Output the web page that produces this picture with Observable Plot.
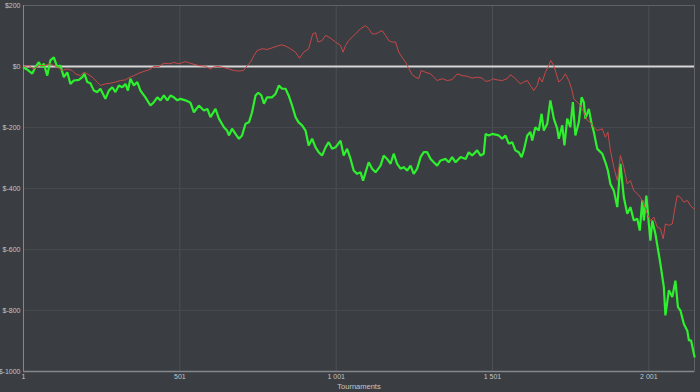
<!DOCTYPE html>
<html><head><meta charset="utf-8">
<script src="https://cdn.jsdelivr.net/npm/d3@7"></script>
<script src="https://cdn.jsdelivr.net/npm/@observablehq/plot@0.6"></script>
<style>
html,body{margin:0;padding:0;background:#3a3d41;}
#chart svg{display:block;}
</style></head><body><div id="chart"></div>
<script>
const xTicks = [1, 501, 1001, 1501, 2001];
const xTickLabels = ["1", "501", "1 001", "1 501", "2 001"];
const yTicks = [200, 0, -200, -400, -600, -800, -1000];
const yTickLabels = ["$200", "$0", "$-200", "$-400", "$-600", "$-800", "$-1000"];
const xLabel = "Tournaments";

// green series (tournament, $)
const greenT = [2,13,29,39,50,58,66,77,87,98,109,119,130,141,151,162,178,189,196,205,215,226,237,247,263,274,285,295,306,317,327,335,343,354,365,375,391,407,418,429,439,450,461,471,482,493,503,519,535,546,562,578,589,599,615,626,642,652,658,668,679,690,700,711,722,732,743,752,762,770,780,796,807,818,828,839,849,860,871,881,892,903,913,924,935,945,956,967,977,988,999,1015,1025,1036,1047,1057,1068,1079,1087,1095,1105,1116,1127,1143,1153,1164,1175,1185,1196,1207,1217,1228,1239,1249,1260,1271,1281,1292,1303,1313,1324,1335,1351,1361,1372,1383,1399,1415,1425,1436,1452,1463,1473,1479,1489,1500,1521,1532,1542,1553,1564,1574,1585,1594,1601,1612,1622,1628,1638,1649,1658,1665,1676,1686,1697,1708,1713,1724,1731,1740,1750,1758,1766,1777,1786,1793,1798,1809,1817,1825,1836,1852,1862,1870,1878,1889,1900,1910,1921,1932,1942,1953,1964,1972,1980,1985,1993,2001,2006,2012,2022,2038,2049,2054,2065,2076,2086,2094,2102,2113,2124,2129,2136,2145,2147];
const greenV = [-4,-10,-23,-2,14,-2,9,-30,20,30,-2,3,-35,-19,-57,-46,-44,-35,-24,-51,-55,-79,-84,-73,-106,-79,-68,-84,-62,-68,-57,-79,-40,-62,-51,-79,-101,-128,-117,-101,-111,-95,-111,-95,-101,-111,-106,-111,-119,-150,-128,-144,-139,-166,-139,-171,-199,-210,-226,-204,-221,-237,-226,-188,-183,-150,-95,-86,-95,-122,-101,-101,-90,-62,-73,-73,-95,-128,-166,-183,-193,-210,-259,-237,-265,-281,-292,-265,-248,-270,-265,-243,-292,-270,-303,-341,-352,-347,-374,-347,-314,-335,-347,-325,-292,-303,-319,-286,-319,-335,-330,-341,-325,-352,-335,-297,-281,-281,-303,-314,-325,-308,-303,-314,-297,-314,-297,-303,-281,-292,-275,-292,-286,-221,-226,-221,-226,-237,-226,-253,-248,-275,-281,-297,-275,-226,-215,-243,-199,-210,-155,-210,-188,-111,-171,-204,-237,-193,-259,-171,-199,-117,-226,-183,-101,-117,-171,-139,-183,-215,-270,-286,-314,-341,-385,-407,-461,-319,-429,-483,-461,-505,-499,-538,-439,-505,-423,-516,-571,-505,-549,-647,-724,-816,-734,-756,-702,-789,-800,-844,-866,-898,-898,-942,-951];

// red series (tournament, $)
const redT = [2,18,34,50,66,87,109,125,141,157,167,183,194,205,221,237,247,263,279,295,311,327,338,354,370,386,402,418,434,450,466,482,498,519,540,562,583,599,615,636,658,673,690,705,716,727,738,748,764,780,796,812,826,839,855,871,884,897,913,926,935,943,956,967,983,999,1015,1023,1031,1041,1052,1063,1079,1095,1105,1116,1127,1137,1148,1159,1169,1180,1191,1201,1212,1223,1233,1244,1255,1265,1273,1287,1303,1313,1324,1340,1356,1372,1388,1404,1420,1436,1452,1468,1479,1494,1500,1516,1532,1548,1558,1569,1580,1590,1601,1612,1622,1633,1644,1651,1660,1670,1681,1687,1697,1705,1713,1724,1734,1745,1754,1761,1772,1782,1793,1804,1814,1825,1836,1852,1862,1870,1878,1889,1900,1910,1921,1932,1942,1953,1964,1974,1985,1996,2006,2017,2028,2038,2047,2054,2065,2076,2083,2092,2102,2113,2124,2134,2145,2147];
const redV = [0,3,-8,3,3,9,-2,-13,-8,-13,-24,-30,-19,-24,-35,-51,-62,-57,-55,-51,-46,-44,-37,-30,-22,-16,-11,0,0,11,9,13,9,16,9,3,1,-8,1,-2,-8,-13,-15,-13,3,14,36,52,58,56,61,67,71,67,58,47,27,47,58,107,111,80,85,102,93,80,69,47,69,85,96,107,124,134,124,107,107,112,118,102,85,80,80,47,30,14,-6,-27,-35,-40,-13,-19,-24,-35,-46,-40,-46,-43,-24,-30,-32,-38,-35,-38,-49,-46,-40,-44,-46,-40,-27,-35,-46,-57,-51,-46,-62,-79,-62,-35,-51,-19,3,20,3,-24,-51,-40,-24,-46,-73,-106,-117,-128,-150,-177,-183,-199,-210,-204,-232,-215,-275,-330,-374,-292,-330,-385,-374,-407,-417,-429,-450,-483,-505,-494,-527,-532,-565,-516,-521,-516,-472,-423,-429,-445,-439,-456,-467,-467];

const green = greenT.map((t, i) => ({t, v: greenV[i]}));
const red = redT.map((t, i) => ({t, v: redV[i]}));

const chart = Plot.plot({
  width: 700,
  height: 392,
  marginLeft: 23,
  marginRight: 6,
  marginTop: 5,
  marginBottom: 21,
  style: {background: "#3a3d41", color: "#c4c6c8", fontFamily: "'Liberation Sans', Arial, sans-serif", fontSize: "7px"},
  x: {domain: [1, 2147]},
  y: {domain: [-1000, 200]},
  marks: [
    Plot.gridX(xTicks, {stroke: "#4c5055", strokeOpacity: 1}),
    Plot.gridY(yTicks, {stroke: "#464a4f", strokeOpacity: 1}),
    Plot.frame({stroke: "#5e6266"}),
    Plot.ruleX([1], {stroke: "#84878b", strokeWidth: 1}),
    Plot.ruleY([-1000], {stroke: "#84878b", strokeWidth: 1.5}),
    Plot.ruleY([0], {stroke: "#d6d6d6", strokeWidth: 2}),
    Plot.line(green, {x: "t", y: "v", stroke: "#2ef02e", strokeWidth: 2.2, strokeLinejoin: "miter"}),
    Plot.line(red, {x: "t", y: "v", stroke: "#c84848", strokeWidth: 1}),
    Plot.axisX({ticks: xTicks, tickFormat: d => xTickLabels[xTicks.indexOf(d)], tickSize: 0, tickPadding: 3, label: null}),
    Plot.axisY({ticks: yTicks, tickFormat: d => yTickLabels[yTicks.indexOf(d)], tickSize: 0, tickPadding: 3, label: null}),
    Plot.text([xLabel], {text: d => d, frameAnchor: "bottom", dy: 17, fontSize: 7.5, fill: "#c4c6c8"})
  ]
});
document.getElementById("chart").append(chart);
</script>
</body></html>
